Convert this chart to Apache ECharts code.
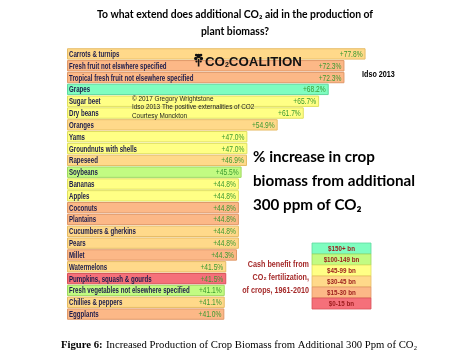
<!DOCTYPE html>
<html><head><meta charset="utf-8">
<script src="https://cdn.jsdelivr.net/npm/echarts@6/dist/echarts.min.js"></script>
<style>html,body{margin:0;padding:0;background:#fff}#c{width:449px;height:358px}</style>
</head><body><div id="c"></div>
<script>
const crops = ["Carrots & turnips","Fresh fruit not elswhere specified","Tropical fresh fruit not elsewhere specified","Grapes","Sugar beet","Dry beans","Oranges","Yams","Groundnuts with shells","Rapeseed","Soybeans","Bananas","Apples","Coconuts","Plantains","Cucumbers & gherkins","Pears","Millet","Watermelons","Pumpkins, squash & gourds","Fresh vegetables not elsewhere specified","Chillies & peppers","Eggplants"];
const increase = [77.8,72.3,72.3,68.2,65.7,61.7,54.9,47.0,47.0,46.9,45.5,44.8,44.8,44.8,44.8,44.8,44.8,44.3,41.5,41.5,41.1,41.1,41.0];
// cash-benefit tier index (0 = $150+ bn ... 5 = $0-15 bn)
const tier = [3,4,4,0,2,2,3,2,2,3,1,2,2,4,4,3,3,4,3,5,1,3,4];
const tierLabels = ["$150+ bn","$100-149 bn","$45-99 bn","$30-45 bn","$15-30 bn","$0-15 bn"];
const tierColors = ["#7ffdc0","#c2fb82","#ffff85","#ffd98a","#fcb887","#f5707a"];
const tierBorders = ["#5fd8a0","#9fd860","#e0e060","#e6bc66","#e09868","#d85058"];

const chart = echarts.init(document.getElementById('c'));
const LS = "'Liberation Sans', Arial, sans-serif";
const legendGraphics = [];
tierLabels.forEach((t, i) => {
  legendGraphics.push({type:'rect', z:10, shape:{x:312, y:243 + i*11, width:59, height:11},
    style:{fill:tierColors[i], stroke:tierBorders[i], lineWidth:0.8}});
  legendGraphics.push({type:'text', z:11, x:341.5, y:248.8 + i*11, scaleX:0.78,
    style:{text:t, fill:'#9b1b1b', font:"bold 8px " + LS, align:'center', verticalAlign:'middle'}});
});

chart.setOption({
  animation:false,
  grid:{left:67, top:48, width:307, height:272, containLabel:false},
  xAxis:{type:'value', min:0, max:80, show:false},
  yAxis:{type:'category', data:crops, inverse:true, show:false},
  series:[{
    type:'bar', barCategoryGap:'4%', z:1,
    data: increase.map((v,i)=>({value:v, itemStyle:{color:tierColors[tier[i]], borderColor:tierBorders[tier[i]], borderWidth:1}}))
  },{
    type:'custom', z:5, encode:{x:0, y:1},
    data: increase.map((v,i)=>[v,i]),
    renderItem:(params, api)=>{
      const i = api.value(1), v = api.value(0);
      const p0 = api.coord([0, i]), p1 = api.coord([v, i]);
      return {type:'group', children:[
        {type:'text', x:p0[0]+2, y:p0[1]+0.5, scaleX:0.68,
          style:{text:crops[i], font:"bold 9px " + LS, fill:'#1c1c4c', align:'left', verticalAlign:'middle'}},
        {type:'text', x:p1[0]-3, y:p1[1]+0.5, scaleX:0.74,
          style:{text:'+' + v.toFixed(1) + '%', font:"9px " + LS, fill:'#3c9a31', align:'right', verticalAlign:'middle'}}
      ]};
    }
  }],
  graphic:[
    {type:'text', z:10, x:235, y:15, style:{text:'To what extend does additional CO\u2082 aid in the production of', font:"bold 10.4px Lato, sans-serif", fill:'#000', align:'center', verticalAlign:'middle'}},
    {type:'text', z:10, x:235, y:32, style:{text:'plant biomass?', font:"bold 10.4px Lato, sans-serif", fill:'#000', align:'center', verticalAlign:'middle'}},
    // logo tree
    {type:'rect', z:10, shape:{x:197.8, y:59, width:1.6, height:7.5}, style:{fill:'#111'}},
    {type:'circle', z:10, shape:{cx:198.6, cy:56, r:2.2}, style:{fill:'#111'}},
    {type:'circle', z:10, shape:{cx:195.8, cy:58.5, r:1.7}, style:{fill:'#111'}},
    {type:'circle', z:10, shape:{cx:201.4, cy:58.5, r:1.7}, style:{fill:'#111'}},
    {type:'circle', z:10, shape:{cx:196.2, cy:55, r:1.3}, style:{fill:'#111'}},
    {type:'circle', z:10, shape:{cx:201, cy:55, r:1.3}, style:{fill:'#111'}},
    {type:'circle', z:10, shape:{cx:196.5, cy:61.5, r:1.1}, style:{fill:'#111'}},
    {type:'circle', z:10, shape:{cx:200.7, cy:61.5, r:1.1}, style:{fill:'#111'}},
    {type:'text', z:10, x:205, y:62, style:{text:'{a|CO}{s|2}{a|COALITION}', verticalAlign:'middle',
      rich:{a:{fontWeight:'bold', fontSize:13.3, fontFamily:'Liberation Sans', fill:'#111'},
            s:{fontWeight:'bold', fontSize:7, fontFamily:'Liberation Sans', fill:'#111', padding:[6,0,0,0]}}}},
    {type:'text', z:10, x:362, y:75, scaleX:0.8, style:{text:'Idso 2013', font:"bold 9px " + LS, fill:'#000', verticalAlign:'middle'}},
    {type:'text', z:10, x:132, y:94.5, scaleX:0.8, style:{text:'\u00a9 2017 Gregory Wrightstone\nIdso 2013 The positive externalities of CO2\nCourtesy Monckton', font:"8px " + LS, fill:'#222', lineHeight:8.5}},
    {type:'text', z:10, x:253, y:145, style:{text:'% increase in crop\nbiomass from additional\n300 ppm of CO\u2082', font:"bold 15.2px Lato, sans-serif", fill:'#000', lineHeight:24}},
    {type:'text', z:10, x:309, y:278, scaleX:0.8, style:{text:'Cash benefit from\nCO\u2082 fertilization,\nof crops, 1961-2010', font:"bold 9px " + LS, fill:'#a52a2a', align:'right', verticalAlign:'middle', lineHeight:13}},
    ...legendGraphics,
    {type:'text', z:10, x:61, y:345, style:{text:'{b|Figure 6:} {n|Increased Production of Crop Biomass from Additional 300 Ppm of CO\u2082}', verticalAlign:'middle',
      rich:{b:{fontFamily:"Liberation Serif", fontSize:10.7, fontWeight:'bold', fill:'#000'}, n:{fontFamily:"Liberation Serif", fontSize:10.7, fill:'#000'}}}}
  ]
});
</script></body></html>
